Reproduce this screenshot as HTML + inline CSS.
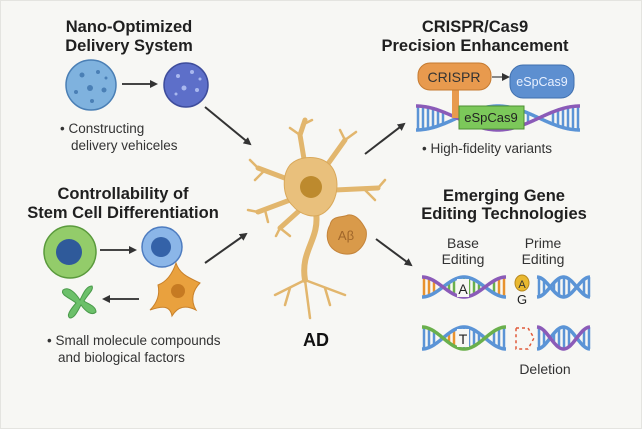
<!DOCTYPE html>
<html><head><meta charset="utf-8"><style>
html,body{margin:0;padding:0;background:#f6f6f3;}
svg{display:block;font-family:"Liberation Sans",sans-serif;}
.t{font-weight:bold;font-size:16.5px;fill:#1f1f1f;text-anchor:middle;}
.b{font-size:13.5px;fill:#333;}
.s{font-size:14px;fill:#333;text-anchor:middle;}
</style></head><body>
<svg id="s" width="642" height="429" viewBox="0 0 642 429" xmlns="http://www.w3.org/2000/svg">
<defs>
<marker id="ah" markerWidth="8" markerHeight="8" refX="6" refY="4" orient="auto" markerUnits="userSpaceOnUse"><path d="M0,0 L8,4 L0,8 z" fill="#333"/></marker>
</defs>
<rect x="0.5" y="0.5" width="641" height="428" fill="#f7f7f4" stroke="#e4e4e0"/>
<text class="t" x="129" y="32">Nano-Optimized</text>
<text class="t" x="129" y="51">Delivery System</text>
<circle cx="91" cy="85" r="25" fill="#7fb2de" stroke="#4a7fb5" stroke-width="1.5"/>
<g fill="#4a7fb5"><circle cx="82" cy="75" r="2.5"/><circle cx="98" cy="72" r="2"/><circle cx="90" cy="88" r="3"/><circle cx="76" cy="92" r="2"/><circle cx="104" cy="90" r="2.5"/><circle cx="92" cy="101" r="2"/><circle cx="106" cy="78" r="1.5"/></g>
<line x1="122" y1="84" x2="156" y2="84" stroke="#444" stroke-width="2" marker-end="url(#ah)"/>
<circle cx="186" cy="85" r="22" fill="#5d6fc9" stroke="#3e4d9c" stroke-width="1.5"/>
<g fill="#a9b8ee"><circle cx="178" cy="76" r="2"/><circle cx="192" cy="72" r="2"/><circle cx="184" cy="88" r="2.5"/><circle cx="197" cy="90" r="2"/><circle cx="176" cy="94" r="1.5"/><circle cx="200" cy="79" r="1.5"/></g>
<text class="b" x="60" y="133">• Constructing</text>
<text class="b" x="71" y="150">delivery vehiceles</text>
<line x1="205" y1="107" x2="250" y2="144" stroke="#333" stroke-width="2" marker-end="url(#ah)"/>

<text class="t" x="123" y="199">Controllability of</text>
<text class="t" x="123" y="218">Stem Cell Differentiation</text>
<circle cx="70" cy="252" r="26" fill="#93cc6a" stroke="#5a9a3c" stroke-width="1.5"/>
<circle cx="69" cy="252" r="13" fill="#2f5a9a"/>
<line x1="100" y1="250" x2="135" y2="250" stroke="#444" stroke-width="2" marker-end="url(#ah)"/>
<circle cx="162" cy="247" r="20" fill="#8bb6e8" stroke="#4d7cc0" stroke-width="1.5"/>
<circle cx="161" cy="247" r="10" fill="#3462a8"/>
<path d="M176,263 C180,275 190,278 200,283 C193,290 190,300 196,310 C186,305 178,306 172,316 C170,305 162,306 150,310 C158,302 160,294 158,285 C166,282 172,275 176,263 Z" fill="#e9a13e" stroke="#c9812a"/>
<circle cx="178" cy="291" r="7" fill="#c67a22"/>
<g fill="#6cc06a" stroke="#4a9a4a">
<path d="M80,300 C75,292 68,286 63,290 C60,295 70,298 76,303 C70,310 66,316 70,318 C75,318 78,310 81,305 C86,312 92,316 96,312 C96,306 88,304 84,301 C88,294 94,290 92,286 C86,286 83,294 80,300 Z"/></g>
<line x1="139" y1="299" x2="104" y2="299" stroke="#444" stroke-width="2" marker-end="url(#ah)"/>
<text class="b" x="47" y="345">• Small molecule compounds</text>
<text class="b" x="58" y="362">and biological factors</text>
<line x1="205" y1="263" x2="246" y2="234" stroke="#333" stroke-width="2" marker-end="url(#ah)"/>

<g stroke="#e2b66d" fill="none" stroke-linecap="round">
<g stroke-width="5"><path d="M305,165 L300,135 L305,120"/><path d="M325,168 L345,140"/><path d="M335,190 L378,188"/><path d="M290,180 L258,168"/><path d="M290,200 L258,212"/><path d="M300,210 L280,228"/></g>
<g stroke-width="2.5"><path d="M300,135 L290,128"/><path d="M302,125 L312,120"/><path d="M345,140 L340,130"/><path d="M345,140 L356,132"/><path d="M378,188 L385,180"/><path d="M365,190 L375,200"/><path d="M258,168 L250,160"/><path d="M265,170 L255,180"/><path d="M258,212 L248,210"/><path d="M265,210 L268,222"/><path d="M280,228 L276,236"/><path d="M280,228 L290,236"/></g>
<path d="M316,212 C320,240 300,250 305,280" stroke-width="6"/>
<g stroke-width="2.5"><path d="M305,280 L275,295"/><path d="M305,280 L310,318"/><path d="M305,280 L345,295"/><path d="M290,288 L285,305"/><path d="M325,288 L330,305"/></g>
</g>
<path d="M290,165 C300,155 320,155 330,165 C340,175 340,200 325,212 C315,220 300,215 292,205 C282,195 282,175 290,165 Z" fill="#e9c07c" stroke="#d9a85a"/>
<circle cx="311" cy="187" r="11" fill="#bd8a2e"/>
<path d="M330,225 C332,215 342,218 348,215 C356,214 362,222 366,230 C368,240 362,248 356,252 C348,256 338,254 332,248 C326,242 326,232 330,225 Z" fill="#d99a4a" stroke="#c4843a"/>
<text x="346" y="240" font-size="13" fill="#a0662a" text-anchor="middle">Aβ</text>
<text x="316" y="346" font-size="18" font-weight="bold" fill="#111" text-anchor="middle">AD</text>

<line x1="365" y1="154" x2="404" y2="124" stroke="#333" stroke-width="2" marker-end="url(#ah)"/>
<line x1="376" y1="239" x2="411" y2="265" stroke="#333" stroke-width="2" marker-end="url(#ah)"/>

<text class="t" x="475" y="32">CRISPR/Cas9</text>
<text class="t" x="475" y="51">Precision Enhancement</text>
<g id="h1"></g>
<rect x="452" y="85" width="7" height="33" fill="#e89a4e"/>
<rect x="418" y="63" width="73" height="27" rx="12" fill="#e89a4e" stroke="#c57a30"/>
<text x="454" y="82" font-size="14" fill="#333" text-anchor="middle">CRISPR</text>
<line x1="492" y1="77" x2="508" y2="77" stroke="#888" stroke-width="2" marker-end="url(#ah)"/>
<rect x="510" y="65" width="64" height="33" rx="13" fill="#5d8fd0" stroke="#3f6fae"/>
<text x="542" y="86" font-size="12.5" fill="#e8f0ff" text-anchor="middle">eSpCas9</text>
<rect x="459" y="106" width="65" height="23" fill="#7cc85a" stroke="#4c8f32"/>
<text x="491" y="122" font-size="13" fill="#222" text-anchor="middle">eSpCas9</text>
<text class="b" x="422" y="153">• High-fidelity variants</text>

<text class="t" x="504" y="201">Emerging Gene</text>
<text class="t" x="504" y="219">Editing Technologies</text>
<text class="s" x="463" y="248">Base</text><text class="s" x="463" y="264">Editing</text>
<text class="s" x="543" y="248">Prime</text><text class="s" x="543" y="264">Editing</text>
<g id="h2"></g><g id="h3"></g><g id="h4"></g><g id="h5"></g>
<rect x="457" y="279" width="12" height="18" fill="#f7f7f4"/>
<text x="463" y="294" font-size="14" fill="#222" text-anchor="middle">A</text>
<rect x="457" y="329" width="12" height="18" fill="#f7f7f4"/>
<text x="463" y="344" font-size="14" fill="#222" text-anchor="middle">T</text>
<ellipse cx="522" cy="283" rx="7" ry="8" fill="#e9b830" stroke="#b8881c"/>
<text x="522" y="288" font-size="11" fill="#333" text-anchor="middle">A</text>
<text x="522" y="304" font-size="13" fill="#222" text-anchor="middle">G</text>
<path d="M516,328 L528,328 L534,338 L528,349 L516,349 Z" fill="none" stroke="#e05a3a" stroke-width="1.5" stroke-dasharray="3,3"/>
<text class="s" x="545" y="374">Deletion</text>
</svg>
<script>
function helix(id,x0,x1,cy,a,p,c1,c2,rc){
 var g=document.getElementById(id),s='',d1='',d2='';
 for(var x=x0+2;x<=x1-1;x+=5){var t=Math.cos(2*Math.PI*(x-x0)/p);if(Math.abs(t)>0.35){var col=typeof rc=='function'?rc(x):rc;s+='<line x1="'+x+'" y1="'+(cy+a*t)+'" x2="'+x+'" y2="'+(cy-a*t)+'" stroke="'+col+'" stroke-width="2.5"/>';}}
 for(var x=x0;x<=x1;x+=1){var t=Math.cos(2*Math.PI*(x-x0)/p);d1+=(x==x0?'M':'L')+x+','+(cy+a*t);d2+=(x==x0?'M':'L')+x+','+(cy-a*t);}
 g.innerHTML=s+'<path d="'+d1+'" fill="none" stroke="'+c1+'" stroke-width="3.5"/><path d="'+d2+'" fill="none" stroke="'+c2+'" stroke-width="3.5"/>';
}
helix('h1',416,580,118,12,164,'#5b94d6','#8b5bb8','#5b94d6');
helix('h2',422,506,287,10,84,'#5b94d6','#8b5bb8',function(x){return (x<435||x>494)?'#e8922e':'#6ab04c';});
helix('h3',537,590,287,10,53,'#5b94d6','#5b94d6','#5b94d6');
helix('h4',422,506,338,11,84,'#5b94d6','#6ab04c',function(x){return (x>448&&x<457)?'#e8922e':'#5b94d6';});
helix('h5',537,590,338,11,53,'#5b94d6','#8b5bb8','#5b94d6');
</script>
</body></html>
